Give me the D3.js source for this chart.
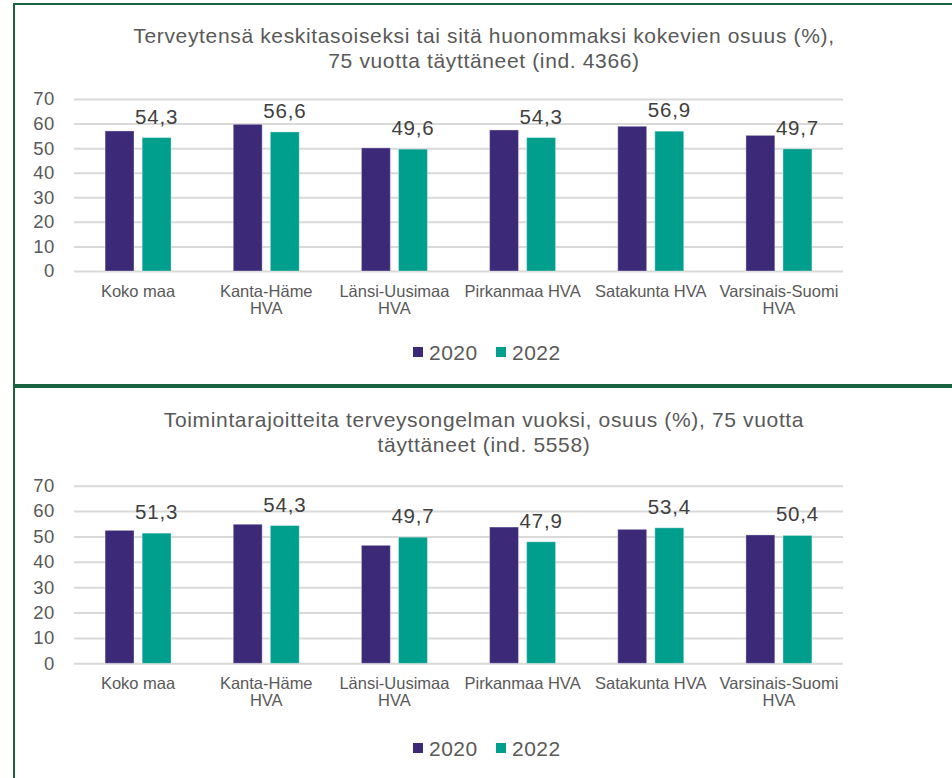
<!DOCTYPE html>
<html>
<head>
<meta charset="utf-8">
<script src="https://cdn.jsdelivr.net/npm/d3@7"></script>
<style>
  html, body { margin: 0; padding: 0; background: #ffffff; }
  svg { display: block; font-family: "Liberation Sans", Arial, sans-serif; }
</style>
</head>
<body>
<svg id="chart" width="952" height="778"></svg>
<script>
// Alueet (x-akselin luokat); rivinvaihto merkitty \n
const categories = ["Koko maa", "Kanta-Häme\nHVA", "Länsi-Uusimaa\nHVA", "Pirkanmaa HVA", "Satakunta HVA", "Varsinais-Suomi\nHVA"];
const years = ["2020", "2022"];

// Ylempi kuvio: terveytensä keskitasoiseksi tai huonommaksi kokevat (%)
const health2020 = [57.0, 59.7, 50.1, 57.4, 58.9, 55.2];
const health2022 = [54.3, 56.6, 49.6, 54.3, 56.9, 49.7];
const healthTitle = ["Terveytensä keskitasoiseksi tai sitä huonommaksi kokevien osuus (%),", "75 vuotta täyttäneet (ind. 4366)"];

// Alempi kuvio: toimintarajoitteita terveysongelman vuoksi (%)
const limit2020 = [52.4, 54.8, 46.5, 53.7, 52.8, 50.6];
const limit2022 = [51.3, 54.3, 49.7, 47.9, 53.4, 50.4];
const limitTitle = ["Toimintarajoitteita terveysongelman vuoksi, osuus (%), 75 vuotta", "täyttäneet (ind. 5558)"];

const yTicks = [0, 10, 20, 30, 40, 50, 60, 70];

const colors = { "2020": "#3c2a79", "2022": "#009e8c" };
const textColor = "#595959";
const frameColor = "#1b6340";

const fi = d3.formatLocale({ decimal: ",", thousands: " ", grouping: [3], currency: ["", "€"] });
const fmt = fi.format(".1f");

const svg = d3.select("#chart");

// Kehykset
svg.append("line").attr("x1", 14).attr("x2", 952).attr("y1", 4).attr("y2", 4)
  .attr("stroke", frameColor).attr("stroke-width", 2);
svg.append("line").attr("x1", 14).attr("x2", 14).attr("y1", 3).attr("y2", 778)
  .attr("stroke", frameColor).attr("stroke-width", 2);
svg.append("line").attr("x1", 13).attr("x2", 952).attr("y1", 386).attr("y2", 386)
  .attr("stroke", frameColor).attr("stroke-width", 4);

function drawPanel(opts) {
  const { title, titleY, s2020, s2022, yTop, yZero, legendY } = opts;
  const g = svg.append("g");

  const x = d3.scaleBand().domain(categories).range([74, 843]).paddingInner(0).paddingOuter(0);
  const y = d3.scaleLinear().domain([0, 70]).range([yZero, yTop]);

  // Otsikko
  g.append("text")
    .attr("text-anchor", "middle")
    .attr("fill", textColor)
    .attr("font-size", 21)
    .attr("letter-spacing", 0.65)
    .selectAll("tspan").data(title).join("tspan")
    .attr("x", 484)
    .attr("y", (d, i) => titleY + i * 24.5)
    .text(d => d);

  // Apuviivat ja y-akselin arvot
  const yAxis = d3.axisLeft(y).tickValues(yTicks).tickSize(-(843 - 74)).tickPadding(19);
  const ax = g.append("g").attr("transform", "translate(74,0)").call(yAxis);
  ax.select(".domain").remove();
  ax.selectAll(".tick line").attr("stroke", "#d9d9d9").attr("stroke-width", 2);
  ax.selectAll(".tick text")
    .attr("fill", textColor)
    .attr("font-size", 18.5)
    .attr("letter-spacing", 0.6)
    .attr("font-family", "Liberation Sans, Arial, sans-serif");

  // Pylväät
  const inner = d3.scaleBand().domain(years).range([0, 66]).paddingInner(0.22);
  const groupOffset = (x.bandwidth() - 66) / 2;
  const rows = categories.map((c, i) => ({ c, v: { "2020": s2020[i], "2022": s2022[i] } }));

  const groups = g.selectAll("g.grp").data(rows).join("g")
    .attr("class", "grp")
    .attr("transform", d => `translate(${x(d.c) + groupOffset},0)`);

  groups.selectAll("rect").data(d => years.map(yr => ({ yr, v: d.v[yr] }))).join("rect")
    .attr("x", d => inner(d.yr))
    .attr("width", inner.bandwidth())
    .attr("y", d => y(d.v))
    .attr("height", d => y(0) - y(d.v))
    .attr("fill", d => colors[d.yr])
    .attr("stroke", "#ffffff")
    .attr("stroke-opacity", 0.35)
    .attr("stroke-width", 1);

  // Arvot vuodelle 2022
  groups.append("text")
    .attr("x", inner("2022") + inner.bandwidth() / 2)
    .attr("y", d => y(d.v["2022"]) - 14)
    .attr("text-anchor", "middle")
    .attr("fill", "#404040")
    .attr("font-size", 20.5)
    .attr("letter-spacing", 0.8)
    .text(d => fmt(d.v["2022"]));

  // Luokkien nimet
  g.append("g").selectAll("text").data(categories).join("text")
    .attr("text-anchor", "middle")
    .attr("fill", textColor)
    .attr("font-size", 16.5)
    .each(function (d) {
      const t = d3.select(this);
      d.split("\n").forEach((line, i) => {
        t.append("tspan")
          .attr("x", x(d) + x.bandwidth() / 2)
          .attr("y", yZero + 26 + i * 17)
          .text(line);
      });
    });

  // Selite
  const legend = g.append("g").attr("transform", `translate(0,${legendY})`);
  const items = [{ yr: "2020", x: 413 }, { yr: "2022", x: 496 }];
  items.forEach(it => {
    legend.append("rect").attr("x", it.x).attr("y", -5).attr("width", 10).attr("height", 10)
      .attr("fill", colors[it.yr]);
    legend.append("text").attr("x", it.x + 16).attr("y", 8)
      .attr("fill", textColor).attr("font-size", 21).attr("letter-spacing", 0.5).text(it.yr);
  });
}

drawPanel({ title: healthTitle, titleY: 43, s2020: health2020, s2022: health2022, yTop: 99, yZero: 271, legendY: 352 });
drawPanel({ title: limitTitle, titleY: 427, s2020: limit2020, s2022: limit2022, yTop: 485.7, yZero: 663.3, legendY: 748 });
</script>
</body>
</html>
